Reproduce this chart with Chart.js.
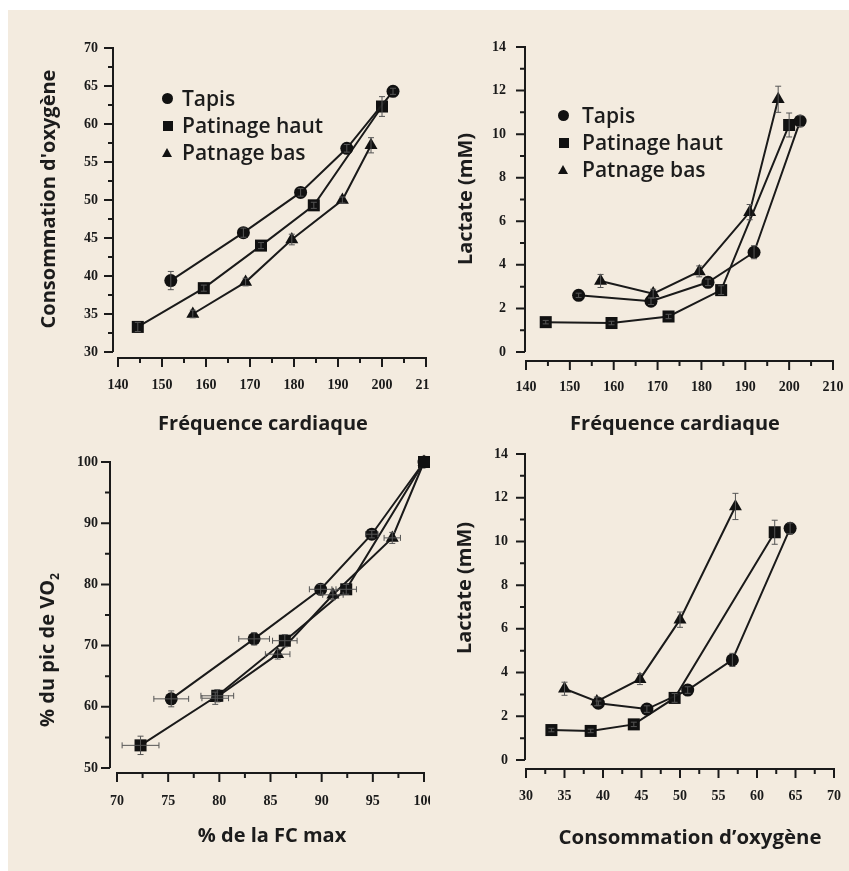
<!DOCTYPE html>
<html lang="fr">
<head>
<meta charset="utf-8">
<title>Tapis / Patinage : VO2, lactate et fréquence cardiaque</title>
<script src="https://cdn.jsdelivr.net/npm/chart.js@4.4.1/dist/chart.umd.min.js"></script>
<style>
  body { margin: 0; width: 849px; height: 871px; background: #fff; position: relative; overflow: hidden; font-family: "Open Sans", sans-serif; color: #1c1c1c; }
  #paper { position: absolute; left: 8px; top: 10px; right: 0; bottom: 0; background: #f3ebdf; }
  .clip { position: absolute; overflow: hidden; }
  .clip canvas { position: absolute; left: 0; top: 0; }
  .xtitle, .ytitle { position: absolute; width: 320px; height: 24px; line-height: 24px; text-align: center; font-weight: 700; font-size: 20px; white-space: nowrap; }
  .ytitle { transform: rotate(-90deg); }
  .legend { position: absolute; font-size: 21px; font-weight: 600; }
  .legend .row { position: relative; height: 27px; line-height: 27px; white-space: nowrap; }
  .mk { position: absolute; left: 0; background: #111; }
  .mk.circle { width: 11px; height: 11px; border-radius: 50%; top: 8px; }
  .mk.square { width: 10px; height: 10px; top: 9px; left: 1px; }
  .mk.tri { width: 0; height: 0; background: none; border-left: 5px solid transparent; border-right: 5px solid transparent; border-bottom: 9px solid #111; top: 9px; }
</style>
</head>
<body>
<div id="paper"></div>

<div class="clip" style="left:0;top:0;width:430px;height:420px"><canvas id="c1" width="450" height="420"></canvas></div>
<div class="clip" style="left:430px;top:0;width:419px;height:420px"><canvas id="c2" width="419" height="420"></canvas></div>
<div class="clip" style="left:0;top:430px;width:430px;height:441px"><canvas id="c3" width="450" height="441"></canvas></div>
<div class="clip" style="left:430px;top:430px;width:419px;height:441px"><canvas id="c4" width="419" height="441"></canvas></div>

<!-- axis titles -->
<div class="ytitle" style="left:-112px;top:187px">Consommation d'oxygène</div>
<div class="xtitle" style="left:103px;top:411px">Fréquence cardiaque</div>
<div class="ytitle" style="left:305px;top:187px">Lactate (mM)</div>
<div class="xtitle" style="left:515px;top:411px">Fréquence cardiaque</div>
<div class="ytitle" style="left:-113px;top:638px">% du pic de VO<sub style="font-size:12px">2</sub></div>
<div class="xtitle" style="left:112px;top:823px">% de la FC max</div>
<div class="ytitle" style="left:304px;top:576px">Lactate (mM)</div>
<div class="xtitle" style="left:530px;top:824px;font-size:20.4px">Consommation d’oxygène</div>

<!-- legends -->
<div class="legend" style="left:162px;top:85px">
  <div class="row"><span class="mk circle"></span><span style="padding-left:20px">Tapis</span></div>
  <div class="row"><span class="mk square"></span><span style="padding-left:20px">Patinage haut</span></div>
  <div class="row"><span class="mk tri"></span><span style="padding-left:20px">Patnage bas</span></div>
</div>
<div class="legend" style="left:558px;top:102px">
  <div class="row"><span class="mk circle"></span><span style="padding-left:24px">Tapis</span></div>
  <div class="row"><span class="mk square"></span><span style="padding-left:24px">Patinage haut</span></div>
  <div class="row"><span class="mk tri"></span><span style="padding-left:24px">Patnage bas</span></div>
</div>

<script>
// ===== DATA =====
// tick labels
const fcTicks = [140, 150, 160, 170, 180, 190, 200, 210];
const vo2Ticks = [30, 35, 40, 45, 50, 55, 60, 65, 70];
const lactTicks = [0, 2, 4, 6, 8, 10, 12, 14];
const pctFcTicks = [70, 75, 80, 85, 90, 95, 100];
const pctVo2Ticks = [50, 60, 70, 80, 90, 100];

// fréquence cardiaque (bpm)
const tapisFC = [152, 168.5, 181.5, 192, 202.5];
const hautFC = [144.5, 159.5, 172.5, 184.5, 200];
const basFC = [157, 169, 179.5, 191, 197.5];

// consommation d'oxygène
const tapisVO2 = [39.4, 45.7, 51, 56.8, 64.3];
const hautVO2 = [33.3, 38.4, 44, 49.3, 62.3];
const basVO2 = [35, 39.2, 44.8, 50, 57.2];

// lactate (mM)
const tapisLact = [2.6, 2.33, 3.2, 4.58, 10.6];
const hautLact = [1.37, 1.33, 1.63, 2.84, 10.42];
const basLact = [3.26, 2.68, 3.7, 6.42, 11.6];

// % de la FC max  /  % du pic de VO2
const tapisPctFC = [75.3, 83.4, 89.9, 94.9, 100];
const tapisPctVO2 = [61.3, 71.1, 79.2, 88.2, 100];
const hautPctFC = [72.3, 79.8, 86.4, 92.4, 100];
const hautPctVO2 = [53.7, 61.8, 70.8, 79.2, 100];
const basPctFC = [79.6, 85.7, 91.1, 96.9, 100];
const basPctVO2 = [61.4, 68.6, 78.3, 87.6, 100];

// error bars (± SE)
const tapisVO2Err = [1.2, 0.6, 0.5, 0.5, 0.4];
const hautVO2Err = [0.6, 0.4, 0.4, 0.4, 1.3];
const basVO2Err = [0.5, 0.5, 0.7, 0.4, 1.0];
const tapisLactErr = [0.1, 0.15, 0.15, 0.3, 0.25];
const hautLactErr = [0.08, 0.08, 0.1, 0.2, 0.55];
const basLactErr = [0.3, 0.2, 0.25, 0.35, 0.6];
const tapisPctFCErr = [1.7, 1.5, 1.1, 0.6, 0];
const hautPctFCErr = [1.8, 1.6, 1.2, 1.0, 0];
const basPctFCErr = [1.3, 1.2, 1.0, 0.8, 0];
const tapisPctVO2Err = [1.3, 1.0, 0.8, 0.6, 0];
const hautPctVO2Err = [1.5, 1.0, 1.0, 0.8, 0];
const basPctVO2Err = [1.0, 0.8, 0.8, 0.9, 0];

// ===== STYLE =====
const ink = "#1a1a1a";
const tickFont = { family: "'Liberation Serif', 'DejaVu Serif', serif", size: 14, weight: "bold" };
Chart.defaults.color = ink;

const markers = {
  tapis: { pointStyle: "circle", pointRadius: 6.5 },
  haut: { pointStyle: "rect", pointRadius: 8.5 },
  bas: { pointStyle: "triangle", pointRadius: 7.5 }
};

function series(kind, xs, ys, xErr, yErr) {
  return {
    data: xs.map((x, i) => ({ x: x, y: ys[i] })),
    xErr: xErr,
    yErr: yErr,
    showLine: true,
    borderColor: ink,
    borderWidth: 2,
    backgroundColor: "#111",
    pointBorderColor: "#111",
    pointBorderWidth: 0,
    clip: false,
    ...markers[kind]
  };
}

// ===== PLUGINS =====
// detached axes with major + minor ticks, like the printed figure
const axesPlugin = {
  id: "axesDraw",
  beforeDatasetsDraw(chart, args, o) {
    const { ctx, scales: { x, y } } = chart;
    const yAxisX = x.getPixelForValue(x.min) - o.gapX;
    const xAxisY = y.getPixelForValue(y.min) + o.gapY;
    ctx.save();
    ctx.strokeStyle = ink;
    ctx.lineWidth = 2;
    ctx.beginPath();
    ctx.moveTo(yAxisX, y.getPixelForValue(y.max) - 1);
    ctx.lineTo(yAxisX, y.getPixelForValue(y.min));
    ctx.moveTo(x.getPixelForValue(x.min), xAxisY);
    ctx.lineTo(x.getPixelForValue(x.max) + 1, xAxisY);
    ctx.stroke();

    ctx.beginPath();
    const yMajor = y.ticks.map(t => t.value);
    for (let v = y.min; v <= y.max + 1e-6; v += o.yMinor) {
      const py = y.getPixelForValue(v);
      const len = yMajor.some(m => Math.abs(m - v) < 1e-6) ? 9 : 5;
      ctx.moveTo(yAxisX, py);
      ctx.lineTo(yAxisX - len, py);
    }
    const xMajor = x.ticks.map(t => t.value);
    for (let v = x.min; v <= x.max + 1e-6; v += o.xMinor) {
      const px = x.getPixelForValue(v);
      const len = xMajor.some(m => Math.abs(m - v) < 1e-6) ? 9 : 5;
      ctx.moveTo(px, xAxisY - 1);
      ctx.lineTo(px, xAxisY + len);
    }
    ctx.stroke();
    ctx.restore();
  }
};

const errorBarPlugin = {
  id: "errorBars",
  afterDatasetsDraw(chart) {
    const { ctx, scales: { x, y } } = chart;
    const cap = 3;
    ctx.save();
    ctx.strokeStyle = "#555";
    ctx.lineWidth = 1;
    chart.data.datasets.forEach(ds => {
      ds.data.forEach((pt, i) => {
        const px = x.getPixelForValue(pt.x);
        const py = y.getPixelForValue(pt.y);
        const ey = ds.yErr ? ds.yErr[i] : 0;
        const ex = ds.xErr ? ds.xErr[i] : 0;
        ctx.beginPath();
        if (ey) {
          const t = y.getPixelForValue(pt.y + ey);
          const b = y.getPixelForValue(pt.y - ey);
          ctx.moveTo(px, t); ctx.lineTo(px, b);
          ctx.moveTo(px - cap, t); ctx.lineTo(px + cap, t);
          ctx.moveTo(px - cap, b); ctx.lineTo(px + cap, b);
        }
        if (ex) {
          const l = x.getPixelForValue(pt.x - ex);
          const r = x.getPixelForValue(pt.x + ex);
          ctx.moveTo(l, py); ctx.lineTo(r, py);
          ctx.moveTo(l, py - cap); ctx.lineTo(l, py + cap);
          ctx.moveTo(r, py - cap); ctx.lineTo(r, py + cap);
        }
        ctx.stroke();
      });
    });
    ctx.restore();
  }
};

// ===== CHART BUILDER =====
function buildChart(id, p) {
  const last = a => a[a.length - 1];
  const pad = { left: 60, right: 20, top: 40, bottom: 40 };
  const chart = new Chart(document.getElementById(id), {
    type: "scatter",
    data: { datasets: p.datasets },
    options: {
      responsive: false,
      animation: false,
      events: [],
      layout: { padding: pad },
      plugins: {
        legend: { display: false },
        tooltip: { enabled: false },
        axesDraw: p.axes
      },
      scales: {
        x: {
          type: "linear",
          min: p.xTicks[0],
          max: last(p.xTicks),
          grid: { display: false, drawTicks: false },
          border: { display: false },
          ticks: { padding: p.xPad, maxRotation: 0, autoSkip: false, font: tickFont, color: ink },
          afterBuildTicks: s => { s.ticks = p.xTicks.map(v => ({ value: v })); },
          afterFit: s => { s.height = 40; s.paddingLeft = 0; s.paddingRight = 0; }
        },
        y: {
          type: "linear",
          min: p.yTicks[0],
          max: last(p.yTicks),
          grid: { display: false, drawTicks: false },
          border: { display: false },
          ticks: { padding: p.yPad, autoSkip: false, font: tickFont, color: ink },
          afterBuildTicks: s => { s.ticks = p.yTicks.map(v => ({ value: v })); },
          afterFit: s => { s.width = 50; s.paddingTop = 0; s.paddingBottom = 0; }
        }
      }
    },
    plugins: [axesPlugin, errorBarPlugin]
  });

  // nudge the layout padding until the plot area sits where the printed one does
  for (let k = 0; k < 3; k++) {
    const a = chart.chartArea;
    pad.left += p.area.left - a.left;
    pad.top += p.area.top - a.top;
    pad.right += a.right - p.area.right;
    pad.bottom += a.bottom - p.area.bottom;
    chart.options.layout.padding = { ...pad };
    chart.update();
  }
  return chart;
}

// top-left: VO2 vs fréquence cardiaque
buildChart("c1", {
  xTicks: fcTicks, yTicks: vo2Ticks,
  area: { left: 118, right: 426, top: 48, bottom: 352 },
  xPad: 25, yPad: 20,
  axes: { gapX: 5, gapY: 6, xMinor: 5, yMinor: 2.5 },
  datasets: [
    series("tapis", tapisFC, tapisVO2, null, tapisVO2Err),
    series("haut", hautFC, hautVO2, null, hautVO2Err),
    series("bas", basFC, basVO2, null, basVO2Err)
  ]
});

// top-right: lactate vs fréquence cardiaque
buildChart("c2", {
  xTicks: fcTicks, yTicks: lactTicks,
  area: { left: 96, right: 403, top: 47, bottom: 352 },
  xPad: 27, yPad: 20,
  axes: { gapX: 1, gapY: 9, xMinor: 5, yMinor: 1 },
  datasets: [
    series("tapis", tapisFC, tapisLact, null, tapisLactErr),
    series("haut", hautFC, hautLact, null, hautLactErr),
    series("bas", basFC, basLact, null, basLactErr)
  ]
});

// bottom-left: % pic VO2 vs % FC max
buildChart("c3", {
  xTicks: pctFcTicks, yTicks: pctVo2Ticks,
  area: { left: 117, right: 424, top: 32, bottom: 338 },
  xPad: 25, yPad: 19,
  axes: { gapX: 7, gapY: 5, xMinor: 2.5, yMinor: 5 },
  datasets: [
    series("tapis", tapisPctFC, tapisPctVO2, tapisPctFCErr, tapisPctVO2Err),
    series("haut", hautPctFC, hautPctVO2, hautPctFCErr, hautPctVO2Err),
    series("bas", basPctFC, basPctVO2, basPctFCErr, basPctVO2Err)
  ]
});

// bottom-right: lactate vs consommation d'oxygène
buildChart("c4", {
  xTicks: vo2Ticks, yTicks: lactTicks,
  area: { left: 96, right: 404, top: 24, bottom: 330 },
  xPad: 28, yPad: 18,
  axes: { gapX: 1, gapY: 9, xMinor: 2.5, yMinor: 1 },
  datasets: [
    series("tapis", tapisVO2, tapisLact, null, tapisLactErr),
    series("haut", hautVO2, hautLact, null, hautLactErr),
    series("bas", basVO2, basLact, null, basLactErr)
  ]
});
</script>
</body>
</html>
